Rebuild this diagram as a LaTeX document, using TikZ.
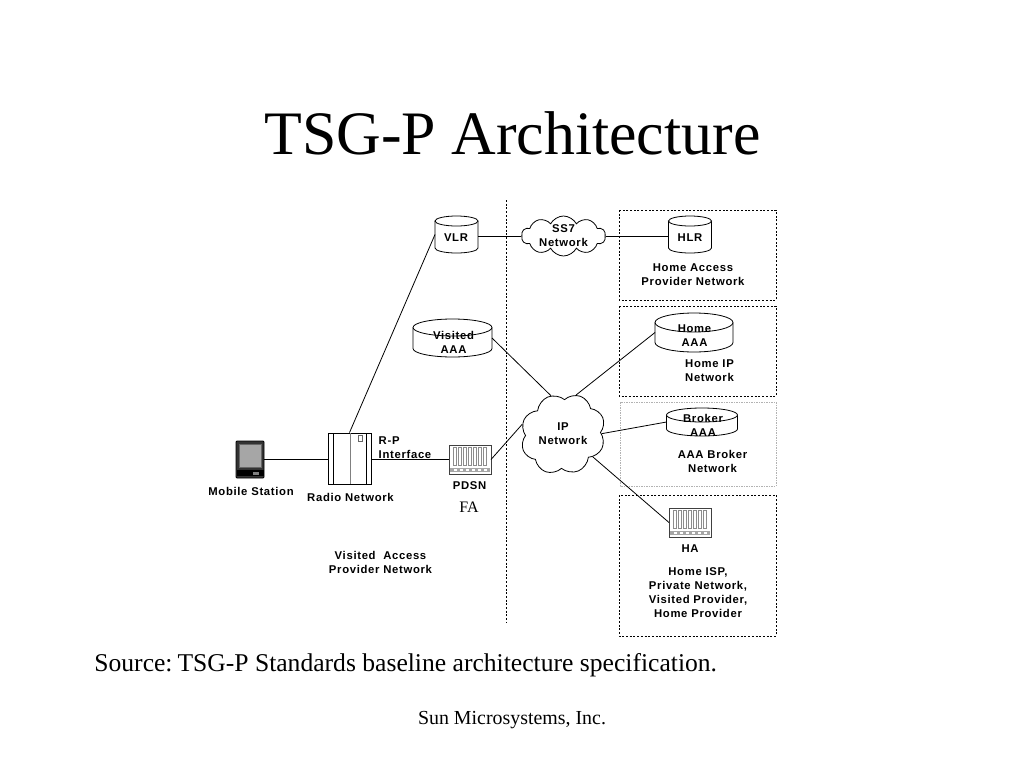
\documentclass[tikz,border=0pt]{standalone}
\usepackage{fontspec}
\setmainfont{Liberation Serif}
\newfontfamily\labelfont[LetterSpace=6]{Liberation Sans}
\usetikzlibrary{shapes.geometric, shapes.symbols, calc, positioning}

\tikzset{
    lab/.style={font=\labelfont\bfseries\fontsize{11.3}{14}\selectfont, align=center, inner sep=0pt},
    dbase/.style={rectangle, inner sep=0pt, outer sep=0pt},
    netcloud/.style={cloud, draw, thick, fill=white, inner sep=0pt, cloud puff arc=125},
    dotbox/.style={draw, thick, dash pattern=on 2pt off 1.7pt},
    linkline/.style={draw, thick},
    rack/.style={draw=black!75, thick, fill=white, minimum width=42pt, minimum height=29pt, inner sep=0pt, outer sep=0pt}
}
% cylinder body on a named node: name, x radius, y radius
\newcommand{\dbdraw}[3]{
    \draw[thick, fill=white] ($(#1.north west)+(0,#3)$) -- ($(#1.south west)+(0,-#3)$)
        arc[start angle=180, end angle=360, x radius=#2pt, y radius=#3pt]
        -- ($(#1.north east)+(0,#3)$);
    \draw[thick, fill=white] ($(#1.north)+(0,#3)$) ellipse [x radius=#2pt, y radius=#3pt];
}

\begin{document}
\frenchspacing
\begin{tikzpicture}[x=1pt, y=-1pt, line width=0.8pt]
    \useasboundingbox (0,0) rectangle (1024,768);

    % --- Title and Footer ---
    \node[font=\fontsize{61.8}{66}\selectfont] (title) at (512.5,133) {TSG-P Architecture};
    \node[font=\fontsize{25.6}{28}\selectfont, anchor=west, inner sep=0pt] (source) at (94,665) {Source:\hspace{-1.5pt} TSG-P Standards baseline architecture specification.};
    \node[font=\fontsize{19.9}{22}\selectfont] (footer) at (512,720) {Sun Microsystems, Inc.};

    % --- Domain Boxes ---
    \coordinate (div_top) at (506,200);
    \coordinate (div_bottom) at (506,622);
    \draw[dotbox] (div_top) -- (div_bottom);
    \draw[dotbox] (619,210) rectangle (776,300);
    \draw[dotbox] (619,306) rectangle (776,396);
    \draw[thin, black!30, dash pattern=on 1.5pt off 1pt] (620,402) rectangle (776,486);
    \draw[dotbox] (619,495) rectangle (776,636);

    % --- Databases ---
    \node[dbase, minimum width=43pt, minimum height=37pt] (vlr) at (456.5,234.5) {};
    \node[dbase, minimum width=43pt, minimum height=37pt] (hlr) at (690,234.5) {};
    \node[dbase, minimum width=79pt, minimum height=38pt] (visited) at (452.5,338) {};
    \node[dbase, minimum width=78pt, minimum height=39pt] (home) at (694,332.5) {};
    \node[dbase, minimum width=71pt, minimum height=28pt] (broker) at (702,422) {};
    \dbdraw{vlr}{21.5}{5}
    \dbdraw{hlr}{21.5}{5}
    \dbdraw{visited}{39.5}{8.5}
    \dbdraw{home}{39}{9.5}
    \dbdraw{broker}{35.5}{7}

    % --- Clouds ---
    \node[netcloud, cloud puffs=10, aspect=2.1, minimum width=84pt, minimum height=40pt] (ss7) at (563.5,236) {};
    \node[netcloud, cloud puffs=8, rotate=22.5, aspect=1, minimum width=86pt, minimum height=80pt] (ip) at (563,434) {};

    % --- Mobile Station ---
    \node[draw=black, fill=black!80, rounded corners=1pt, minimum width=28pt, minimum height=37pt, inner sep=0pt] (mobile) at (250,459.5) {};
    \fill[black!35, draw=black!60] (239,444.5) rectangle (261.5,467);
    \fill[black] (236.5,470) rectangle (263.5,476);
    \fill[black!50] (253,472) rectangle (259,475);

    % --- Radio Network ---
    \node[draw, thick, fill=white, minimum width=43pt, minimum height=51pt, inner sep=0pt] (radio) at (349.5,458.5) {};
    \draw[thick] (333.5,433) -- (333.5,484);
    \draw[thick] (366,433) -- (366,484);
    \draw[thin, black!50] (350,433) -- (350,484);
    \draw[thin, black!60] (358.5,435.5) rectangle (362.5,441);

    % --- PDSN and HA ---
    \node[rack] (pdsn) at (470,459.5) {};
    \node[rack] (ha) at (690,522.5) {};
    \foreach \rx/\ry in {470/459.5, 690/522.5} {
        \foreach \i in {-15,-10,...,15} {
            \draw[thin, black!45] (\rx+\i-1.5,\ry-12) rectangle (\rx+\i+1.5,\ry+6);
        }
        \fill[black!35] (\rx-20,\ry+8) rectangle (\rx+20,\ry+12);
        \foreach \i in {-15,-9,...,15} {
            \fill[white] (\rx+\i-1.5,\ry+9) rectangle (\rx+\i+1.5,\ry+11);
        }
    }

    % --- Links ---
    \path[linkline] (mobile.east) -- (radio.west |- mobile.east);
    \path[linkline] (radio.east |- pdsn.west) -- (pdsn.west);
    \path[linkline] (radio.north) -- (vlr.west);
    \path[linkline] (vlr.east |- ss7.west) -- (ss7.west);
    \path[linkline] (ss7.east) -- (hlr.west |- ss7.east);
    \path[linkline] (visited.east) -- (ip.85.5);
    \path[linkline] (home.west) -- (ip.49.5);
    \path[linkline] (pdsn.east) -- (ip.144.5);
    \path[linkline] (ip.-22.5) -- (broker.west);
    \path[linkline] (ip.-60.5) -- (ha.west);

    % --- Labels ---
    \node[lab] (vlr_lab) at (456,238) {VLR};
    \node[lab] (hlr_lab) at (690,238) {HLR};
    \node[lab] (ss7_lab) at (563.5,235.5) {SS7\\Network};
    \node[lab] (visited_lab) at (453.5,342) {Visited\\AAA};
    \node[lab] (home_lab) at (694.5,336) {Home\\AAA};
    \node[lab] (broker_lab) at (703,425) {Broker\\AAA};
    \node[lab] (ip_lab) at (563,434) {IP\\Network};
    \node[lab] (hap_lab) at (693,274.5) {Home Access\\Provider Network};
    \node[lab] (hip_lab) at (709.5,370.5) {Home IP\\Network};
    \node[lab] (brk_lab) at (712.5,461) {AAA Broker\\Network};
    \node[lab] (ha_lab) at (690,549) {HA};
    \node[lab] (isp_lab) at (698,592.5) {Home ISP,\\Private Network,\\Visited Provider,\\Home Provider};
    \node[lab] (ms_lab) at (251,491) {Mobile Station};
    \node[lab] (rn_lab) at (350.5,497.5) {Radio Network};
    \node[lab, align=left] (rp_lab) at (405,447.5) {R-P\\Interface};
    \node[lab] (pdsn_lab) at (469.5,486) {PDSN};
    \node[font=\fontsize{16}{18}\selectfont, inner sep=0pt] (fa_lab) at (469,507) {FA};
    \node[lab] (vap_lab) at (380.5,562.5) {Visited~ Access\\Provider Network};
\end{tikzpicture}
\end{document}
